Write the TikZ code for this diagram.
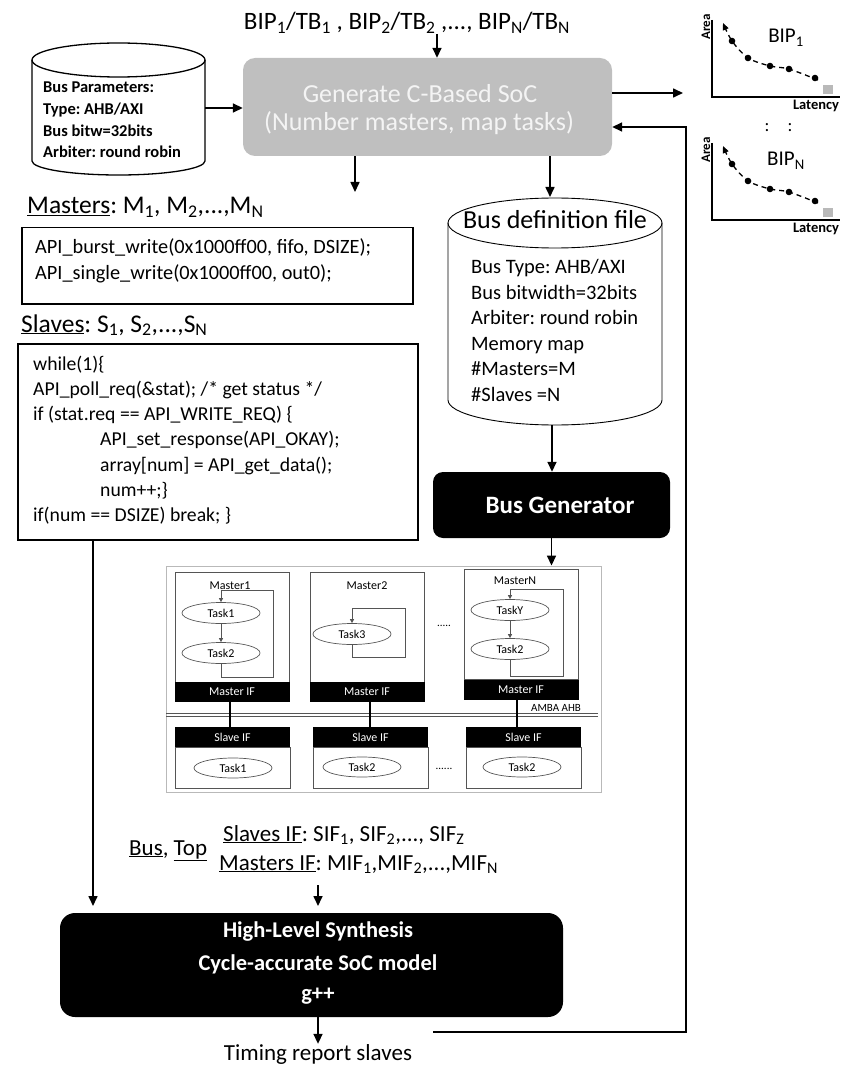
\documentclass[tikz,border=0pt]{standalone}
\usepackage{fontspec}
\setmainfont{Carlito}
\usetikzlibrary{arrows.meta,shapes.geometric}
\newcommand{\fsz}[1]{\fontsize{#1}{#1}\selectfont}
\newcommand{\sbs}[1]{\textsubscript{#1}}
\definecolor{genfill}{HTML}{BFBFBF}
\definecolor{gentext}{HTML}{F4F4F4}
\definecolor{figline}{HTML}{555555}
\frenchspacing
\begin{document}
\begin{tikzpicture}[x=1pt,y=-1pt,
  arr/.style={line width=1.6pt,-{Triangle[length=10pt,width=9pt]}},
  txt/.style={inner sep=0pt},
  cyl/.style={line width=1.3pt},
  codebox/.style={draw,line width=1.5pt,anchor=north west,inner sep=0pt},
  blackbox/.style={fill=black,inner sep=0pt},
  mbx/.style={draw=figline,line width=0.9pt,inner sep=0pt,minimum width=114pt,minimum height=110pt},
  ifbar/.style={fill=black,text=white,inner sep=0pt,minimum width=115pt,minimum height=20pt,font=\fsz{12}},
  sbx/.style={draw=figline,line width=0.9pt,inner sep=0pt,minimum width=115pt,minimum height=41pt},
  task/.style={ellipse,draw=figline,line width=0.7pt,inner sep=0pt,minimum width=78pt,minimum height=21pt,font=\fsz{12}},
  farr/.style={draw=figline,line width=0.8pt,-{Triangle[length=4pt,width=4pt]}},
  gdash/.style={dashed,dash pattern=on 5pt off 4pt,line width=1.3pt,-{Triangle[length=7pt,width=6pt]}}
]
\useasboundingbox (0,0) rectangle (854,1067);

% ---------- top input label
\node[txt,anchor=base] (bip) at (407,30) {\fsz{25}BIP\sbs{1}/TB\sbs{1} , BIP\sbs{2}/TB\sbs{2} ,..., BIP\sbs{N}/TB\sbs{N}};

% ---------- generate box
\node[fill=genfill,rounded corners=12pt,minimum width=369pt,minimum height=98pt,inner sep=0pt] (gen) at (427.5,107) {};
\node[txt,anchor=base,text=gentext] (gen1) at (420,103) {\fsz{26}Generate C-Based SoC};
\node[txt,anchor=base,text=gentext] (gen2) at (419,131) {\fsz{26}(Number masters, map tasks)};
\draw[arr] (bip.south -| 437,0) -- (gen.north -| 437,0);

% ---------- bus parameters cylinder
\draw[cyl] (32,60) -- (32,161) arc[start angle=180,end angle=0,x radius=86.5,y radius=14] -- (205,60);
\draw[cyl] (118.5,60) ellipse[x radius=86.5,y radius=17];
\node[txt,anchor=base west] (bp1) at (43,93) {\fsz{16.5}\bfseries Bus Parameters:};
\node[txt,anchor=base west] (bp2) at (43,115) {\fsz{16.5}\bfseries Type: AHB/AXI};
\node[txt,anchor=base west] (bp3) at (43,137) {\fsz{16.5}\bfseries Bus bitw=32bits};
\node[txt,anchor=base west] (bp4) at (43,158) {\fsz{16.5}\bfseries Arbiter: round robin};
\coordinate (bpR) at (205,108);
\draw[arr] (bpR) -- (bpR -| gen.west);

% ---------- pareto graphs
\foreach \dy/\nm in {0/1,123/N}{
\begin{scope}[shift={(0,\dy)}]
  \draw[line width=1.3pt] (712,20) -- (712,97) -- (840,97);
  \draw[gdash] plot[smooth] coordinates {(818,80) (789,69) (770,66) (748,58) (732,41) (723,23)};
  \foreach \p in {(732,41),(748,58),(770,66),(789,69),(815,78)} \fill \p circle (3.3);
  \fill[gray!55] (823,85) rectangle (833,94);
  \node[txt,rotate=90] at (706,27) {\fsz{13}\bfseries Area};
  \node[txt,anchor=base] at (816,110) {\fsz{14.5}\bfseries Latency};
  \node[txt,anchor=base] at (786,43) {\fsz{21}BIP\sbs{\nm}};
\end{scope}}
\node[txt] (col1) at (767,128) {\fsz{18}:};
\node[txt] (col2) at (790,128) {\fsz{18}:};
\coordinate (grIn) at (683,93);
\draw[arr] (grIn -| gen.east) -- (grIn);

% ---------- masters
\coordinate (mtip) at (355,192);
\draw[arr] (mtip |- gen.south) -- (mtip);
\node[txt,anchor=base west] (mlab) at (27,214) {\fsz{25.5}\underline{Masters}: M\sbs{1}, M\sbs{2},...,M\sbs{N}};
\node[codebox,minimum width=391pt,minimum height=76pt] (mbox) at (21,227) {};
\node[txt,anchor=base west] (mc1) at (35,253) {\fsz{20.3}API\_burst\_write(0x1000ff00, fifo, DSIZE);};
\node[txt,anchor=base west] (mc2) at (35,279) {\fsz{20.3}API\_single\_write(0x1000ff00, out0);};

% ---------- slaves
\node[txt,anchor=base west] (slab) at (21,332) {\fsz{25.5}\underline{Slaves}: S\sbs{1}, S\sbs{2},...,S\sbs{N}};
\node[codebox,minimum width=400pt,minimum height=196pt] (sbox) at (17,343) {};
\node[txt,anchor=base west] (sc1) at (33,370) {\fsz{19.7}while(1)\{};
\node[txt,anchor=base west] (sc2) at (33,395) {\fsz{19.7}API\_poll\_req(\&stat); /* get status */};
\node[txt,anchor=base west] (sc3) at (33,420) {\fsz{19.7}if (stat.req == API\_WRITE\_REQ) \{};
\node[txt,anchor=base west] (sc4) at (100,445) {\fsz{19.7}API\_set\_response(API\_OKAY);};
\node[txt,anchor=base west] (sc5) at (100,471) {\fsz{19.7}array[num] = API\_get\_data();};
\node[txt,anchor=base west] (sc6) at (100,496) {\fsz{19.7}num++;\}};
\node[txt,anchor=base west] (sc7) at (33,521) {\fsz{19.7}if(num == DSIZE) break; \}};

% ---------- bus definition file
\draw[line width=0.9pt] (448,223) -- (448,400) arc[start angle=180,end angle=0,x radius=107,y radius=25] -- (662,223);
\draw[line width=0.9pt] (555,223) ellipse[x radius=107,y radius=25];
\node[txt,anchor=base] (bdt) at (555,229) {\fsz{26}Bus definition file};
\node[txt,anchor=base west] (bd1) at (471,273) {\fsz{20.5}Bus Type: AHB/AXI};
\node[txt,anchor=base west] (bd2) at (471,299) {\fsz{20.5}Bus bitwidth=32bits};
\node[txt,anchor=base west] (bd3) at (471,324) {\fsz{20.5}Arbiter: round robin};
\node[txt,anchor=base west] (bd4) at (471,350) {\fsz{20.5}Memory map};
\node[txt,anchor=base west] (bd5) at (471,375) {\fsz{20.5}\#Masters=M};
\node[txt,anchor=base west] (bd6) at (471,401) {\fsz{20.5}\#Slaves =N};
\coordinate (bdtop) at (550,197);
\draw[arr] (bdtop |- gen.south) -- (bdtop);
\coordinate (bdbot) at (552,425);

% ---------- bus generator
\node[blackbox,rounded corners=10pt,minimum width=237pt,minimum height=66pt] (bgen) at (551.5,505) {};
\node[txt,anchor=base,text=white] (bgent) at (560,513) {\fsz{25}\bfseries Bus Generator};
\draw[arr] (bdbot) -- (bdbot |- bgen.north);

% ---------- embedded AMBA figure
\node[draw=gray!55,line width=0.9pt,minimum width=435pt,minimum height=226pt,inner sep=0pt] (fig) at (383.5,679) {};
\draw[arr] (bgen.south) -- (bgen.south |- fig.north);
\node[mbx] (m1) at (232,627) {};
\node[mbx] (m2) at (367,627) {};
\node[mbx] (mN) at (521,624) {};
\node[ifbar] (m1if) at (232,692) {Master IF};
\node[ifbar] (m2if) at (367,692) {Master IF};
\node[ifbar] (mNif) at (521,689.5) {Master IF};
\node[txt,anchor=base] (m1l) at (230,589) {\fsz{12}Master1};
\node[txt,anchor=base] (m2l) at (367,589) {\fsz{12}Master2};
\node[txt,anchor=base] (mNl) at (515,584) {\fsz{12}MasterN};
\node[task] (t11) at (221,613) {Task1};
\node[task] (t12) at (221,653) {Task2};
\node[task] (t23) at (352,634) {Task3};
\node[task] (tNY) at (510,610) {TaskY};
\node[task] (tN2) at (510,649) {Task2};
\draw[farr] (t11.south) -- (t12.north);
\draw[farr] (t12.south) -- (221,677) -- (273,677) -- (273,590) -- (221,590) -- (t11.north);
\draw[farr] (t23.south) -- (352,657) -- (405,657) -- (405,608) -- (352,608) -- (t23.north);
\draw[farr] (tNY.south) -- (tN2.north);
\draw[farr] (tN2.south) -- (510,676) -- (563,676) -- (563,589) -- (510,589) -- (tNY.north);
\node[txt] (dots1) at (444,626) {\fsz{11}.....};
\node[txt,anchor=base] (amba) at (556,711) {\fsz{11}AMBA AHB};
\draw[figline,line width=0.8pt] (166,713.5) -- (598,713.5);
\draw[figline,line width=0.8pt] (166,716.5) -- (598,716.5);
\node[ifbar] (s1if) at (232.5,737) {Slave IF};
\node[ifbar] (s2if) at (370.5,737) {Slave IF};
\node[ifbar] (s3if) at (523.5,737) {Slave IF};
\node[sbx] (s1) at (232.5,767.5) {};
\node[sbx] (s2) at (370.5,767.5) {};
\node[sbx] (s3) at (523.5,767.5) {};
\node[task,minimum height=20pt] (st1) at (233,768) {Task1};
\node[task,minimum height=20pt] (st2) at (362,767) {Task2};
\node[task,minimum height=20pt] (st3) at (522,767) {Task2};
\node[txt] (dots2) at (444,769) {\fsz{11}......};
\draw[line width=1.5pt] (m1if.south -| 230,0) -- (s1if.north -| 230,0);
\draw[line width=1.5pt] (m2if.south -| 370,0) -- (s2if.north -| 370,0);
\draw[line width=1.5pt] (mNif.south -| 517,0) -- (s3if.north -| 517,0);

% ---------- bus / top labels
\node[txt,anchor=base west] (bt) at (129,855) {\fsz{23}\underline{Bus}, \underline{Top}};
\node[txt,anchor=base west] (sif) at (223,841) {\fsz{23}\underline{Slaves IF}: SIF\sbs{1}, SIF\sbs{2},..., SIF\sbs{Z}};
\node[txt,anchor=base west] (mif) at (219,870) {\fsz{23}\underline{Masters IF}: MIF\sbs{1},MIF\sbs{2},...,MIF\sbs{N}};

% ---------- HLS
\node[blackbox,rounded corners=15pt,minimum width=503pt,minimum height=104pt] (hls) at (311.5,965) {};
\node[txt,anchor=base,text=white] (h1) at (318,937) {\fsz{22.5}\bfseries High-Level Synthesis};
\node[txt,anchor=base,text=white] (h2) at (318,970) {\fsz{22.5}\bfseries Cycle-accurate SoC model};
\node[txt,anchor=base,text=white] (h3) at (318,1000) {\fsz{22.5}\bfseries g++};
\coordinate (hin1) at (93,906);
\coordinate (hin2) at (318,906);
\draw[arr] (sbox.south -| hin1) -- (hin1);
\draw[arr] (318,885) -- (hin2);
\node[txt,anchor=base] (tim) at (318,1060) {\fsz{23}Timing report slaves};
\draw[arr] (hls.south -| tim) -- (tim.north);

% ---------- feedback loop
\coordinate (fbstart) at (433,1032);
\coordinate (fbcorner) at (686,127);
\draw[arr] (fbstart) -| (fbcorner) -- (fbcorner -| gen.east);
\end{tikzpicture}
\end{document}
